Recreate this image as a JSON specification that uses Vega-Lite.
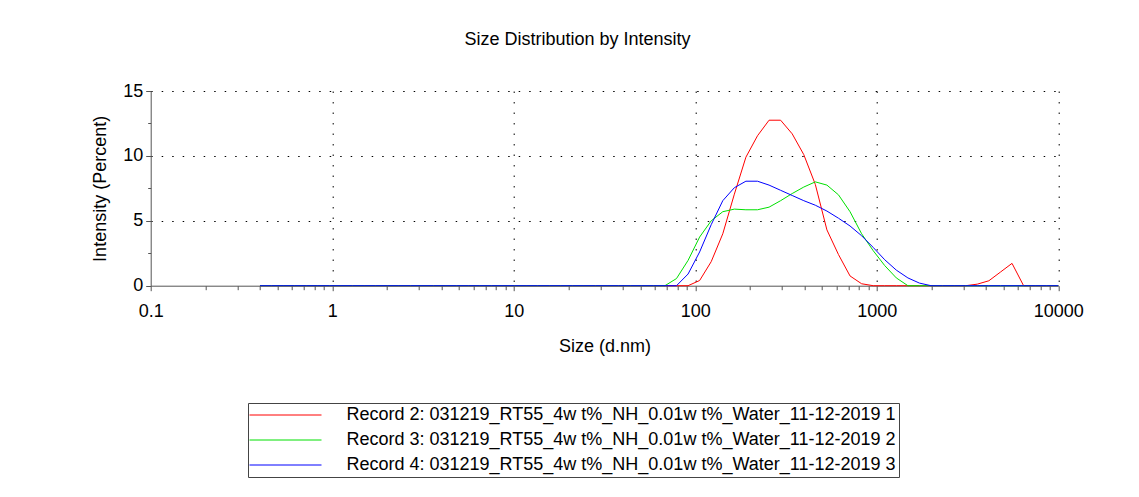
{
  "$schema": "https://vega.github.io/schema/vega-lite/v6.json",
  "width": 907.6,
  "height": 194.7,
  "autosize": "none",
  "padding": {"left": 150.7, "top": 91, "right": 80.7, "bottom": 211.3},
  "background": "white",
  "config": {
    "view": {"stroke": null},
    "font": "Liberation Sans",
    "axis": {
      "labelFont": "Liberation Sans",
      "titleFont": "Liberation Sans",
      "labelColor": "black",
      "titleColor": "black",
      "labelFontSize": 18,
      "titleFontSize": 18,
      "titleFontWeight": "normal",
      "domainColor": "#555555",
      "tickColor": "#555555",
      "gridColor": "black",
      "gridDash": [1.5, 9],
      "gridWidth": 1,
      "labelFlush": false,
      "labelOverlap": false
    }
  },
  "title": {
    "text": "Size Distribution by Intensity",
    "font": "Liberation Sans",
    "fontSize": 18,
    "fontWeight": "normal",
    "color": "black",
    "frame": "group",
    "dx": -27,
    "offset": 33
  },
  "data": {
    "values": [
      {"size": 0.4, "R2": 0, "R3": 0, "R4": 0},
      {"size": 0.4632, "R2": 0, "R3": 0, "R4": 0},
      {"size": 0.5365, "R2": 0, "R3": 0, "R4": 0},
      {"size": 0.6213, "R2": 0, "R3": 0, "R4": 0},
      {"size": 0.7195, "R2": 0, "R3": 0, "R4": 0},
      {"size": 0.8332, "R2": 0, "R3": 0, "R4": 0},
      {"size": 0.9649, "R2": 0, "R3": 0, "R4": 0},
      {"size": 1.117, "R2": 0, "R3": 0, "R4": 0},
      {"size": 1.294, "R2": 0, "R3": 0, "R4": 0},
      {"size": 1.499, "R2": 0, "R3": 0, "R4": 0},
      {"size": 1.736, "R2": 0, "R3": 0, "R4": 0},
      {"size": 2.01, "R2": 0, "R3": 0, "R4": 0},
      {"size": 2.328, "R2": 0, "R3": 0, "R4": 0},
      {"size": 2.696, "R2": 0, "R3": 0, "R4": 0},
      {"size": 3.122, "R2": 0, "R3": 0, "R4": 0},
      {"size": 3.615, "R2": 0, "R3": 0, "R4": 0},
      {"size": 4.187, "R2": 0, "R3": 0, "R4": 0},
      {"size": 4.849, "R2": 0, "R3": 0, "R4": 0},
      {"size": 5.615, "R2": 0, "R3": 0, "R4": 0},
      {"size": 6.503, "R2": 0, "R3": 0, "R4": 0},
      {"size": 7.531, "R2": 0, "R3": 0, "R4": 0},
      {"size": 8.721, "R2": 0, "R3": 0, "R4": 0},
      {"size": 10.1, "R2": 0, "R3": 0, "R4": 0},
      {"size": 11.7, "R2": 0, "R3": 0, "R4": 0},
      {"size": 13.54, "R2": 0, "R3": 0, "R4": 0},
      {"size": 15.69, "R2": 0, "R3": 0, "R4": 0},
      {"size": 18.17, "R2": 0, "R3": 0, "R4": 0},
      {"size": 21.04, "R2": 0, "R3": 0, "R4": 0},
      {"size": 24.36, "R2": 0, "R3": 0, "R4": 0},
      {"size": 28.21, "R2": 0, "R3": 0, "R4": 0},
      {"size": 32.67, "R2": 0, "R3": 0, "R4": 0},
      {"size": 37.84, "R2": 0, "R3": 0, "R4": 0},
      {"size": 43.82, "R2": 0, "R3": 0, "R4": 0},
      {"size": 50.75, "R2": 0, "R3": 0, "R4": 0},
      {"size": 58.77, "R2": 0, "R3": 0, "R4": 0},
      {"size": 68.06, "R2": 0, "R3": 0, "R4": 0},
      {"size": 78.82, "R2": 0, "R3": 0.55, "R4": 0},
      {"size": 91.28, "R2": 0, "R3": 1.95, "R4": 0.9},
      {"size": 105.7, "R2": 0.4, "R3": 3.75, "R4": 2.6},
      {"size": 122.4, "R2": 1.85, "R3": 5.0, "R4": 4.7},
      {"size": 141.8, "R2": 4.0, "R3": 5.7, "R4": 6.55},
      {"size": 164.2, "R2": 7.05, "R3": 5.9, "R4": 7.55},
      {"size": 190.1, "R2": 9.9, "R3": 5.85, "R4": 8.05},
      {"size": 220.2, "R2": 11.55, "R3": 5.85, "R4": 8.05},
      {"size": 255.0, "R2": 12.75, "R3": 6.05, "R4": 7.75},
      {"size": 295.3, "R2": 12.75, "R3": 6.55, "R4": 7.35},
      {"size": 342.0, "R2": 11.7, "R3": 7.1, "R4": 6.95},
      {"size": 396.1, "R2": 10.1, "R3": 7.6, "R4": 6.55},
      {"size": 458.7, "R2": 7.8, "R3": 8.0, "R4": 6.2},
      {"size": 531.2, "R2": 4.3, "R3": 7.75, "R4": 5.75},
      {"size": 615.1, "R2": 2.4, "R3": 7.0, "R4": 5.2},
      {"size": 712.4, "R2": 0.75, "R3": 5.7, "R4": 4.6},
      {"size": 825.0, "R2": 0.15, "R3": 4.0, "R4": 3.85},
      {"size": 955.4, "R2": 0, "R3": 2.7, "R4": 2.95},
      {"size": 1106, "R2": 0, "R3": 1.55, "R4": 2.0},
      {"size": 1281, "R2": 0, "R3": 0.6, "R4": 1.2},
      {"size": 1484, "R2": 0, "R3": 0, "R4": 0.6},
      {"size": 1718, "R2": 0, "R3": 0, "R4": 0.2},
      {"size": 1990, "R2": 0, "R3": 0, "R4": 0},
      {"size": 2305, "R2": 0, "R3": 0, "R4": 0},
      {"size": 2669, "R2": 0, "R3": 0, "R4": 0},
      {"size": 3091, "R2": 0, "R3": 0, "R4": 0},
      {"size": 3580, "R2": 0.12, "R3": 0, "R4": 0},
      {"size": 4145, "R2": 0.38, "R3": 0, "R4": 0},
      {"size": 4801, "R2": 1.05, "R3": 0, "R4": 0},
      {"size": 5560, "R2": 1.72, "R3": 0, "R4": 0},
      {"size": 6439, "R2": 0, "R3": 0, "R4": 0},
      {"size": 7456, "R2": 0, "R3": 0, "R4": 0},
      {"size": 8635, "R2": 0, "R3": 0, "R4": 0},
      {"size": 10000, "R2": 0, "R3": 0, "R4": 0}
    ]
  },
  "transform": [
    {"fold": ["R2", "R3", "R4"], "as": ["record", "intensity"]}
  ],
  "mark": {"type": "line", "strokeWidth": 1, "interpolate": "linear"},
  "encoding": {
    "x": {
      "field": "size",
      "type": "quantitative",
      "scale": {"type": "log", "domain": [0.1, 10000], "nice": false},
      "axis": {
        "title": "Size (d.nm)",
        "values": [0.1, 0.2, 0.3, 0.4, 0.5, 0.6, 0.7, 0.8, 0.9,
                   1, 2, 3, 4, 5, 6, 7, 8, 9,
                   10, 20, 30, 40, 50, 60, 70, 80, 90,
                   100, 200, 300, 400, 500, 600, 700, 800, 900,
                   1000, 2000, 3000, 4000, 5000, 6000, 7000, 8000, 9000, 10000],
        "labelExpr": "abs(log(datum.value) / LN10 - round(log(datum.value) / LN10)) < 1e-6 ? format(datum.value, '~g') : ''",
        "tickSize": {"condition": {"test": "abs(log(datum.value) / LN10 - round(log(datum.value) / LN10)) < 1e-6", "value": 5}, "value": 4},
        "grid": true,
        "gridOpacity": {"condition": {"test": "abs(log(datum.value) / LN10 - round(log(datum.value) / LN10)) < 1e-6 && datum.value > 0.5", "value": 1}, "value": 0},
        "labelPadding": 12,
        "titlePadding": 17
      }
    },
    "y": {
      "field": "intensity",
      "type": "quantitative",
      "scale": {"domain": [0, 15], "nice": false},
      "axis": {
        "title": "Intensity (Percent)",
        "values": [0, 2.5, 5, 7.5, 10, 12.5, 15],
        "labelExpr": "datum.value % 5 == 0 ? datum.label : ''",
        "tickSize": {"condition": {"test": "datum.value % 5 == 0", "value": 5}, "value": 3},
        "grid": true,
        "gridOpacity": {"condition": {"test": "datum.value % 5 == 0 && datum.value > 0", "value": 1}, "value": 0},
        "labelPadding": 3,
        "titlePadding": 13
      }
    },
    "color": {
      "field": "record",
      "type": "nominal",
      "scale": {"domain": ["R2", "R3", "R4"], "range": ["#ff0000", "#00e000", "#0000ff"]},
      "legend": {
        "orient": "none",
        "legendX": 97.3,
        "legendY": 312,
        "title": null,
        "direction": "vertical",
        "symbolType": "M-9,0H9",
        "symbolSize": 64,
        "symbolStrokeWidth": 1,
        "symbolOffset": 25.5,
        "labelFont": "Liberation Sans",
        "labelFontSize": 18,
        "labelColor": "black",
        "labelOffset": 52,
        "labelLimit": 1000,
        "strokeColor": "#444444",
        "padding": 3,
        "rowPadding": 7,
        "labelExpr": "datum.value == 'R2' ? 'Record 2: 031219_RT55_4w t%_NH_0.01w t%_Water_11-12-2019 1' : datum.value == 'R3' ? 'Record 3: 031219_RT55_4w t%_NH_0.01w t%_Water_11-12-2019 2' : 'Record 4: 031219_RT55_4w t%_NH_0.01w t%_Water_11-12-2019 3'"
      }
    }
  }
}
